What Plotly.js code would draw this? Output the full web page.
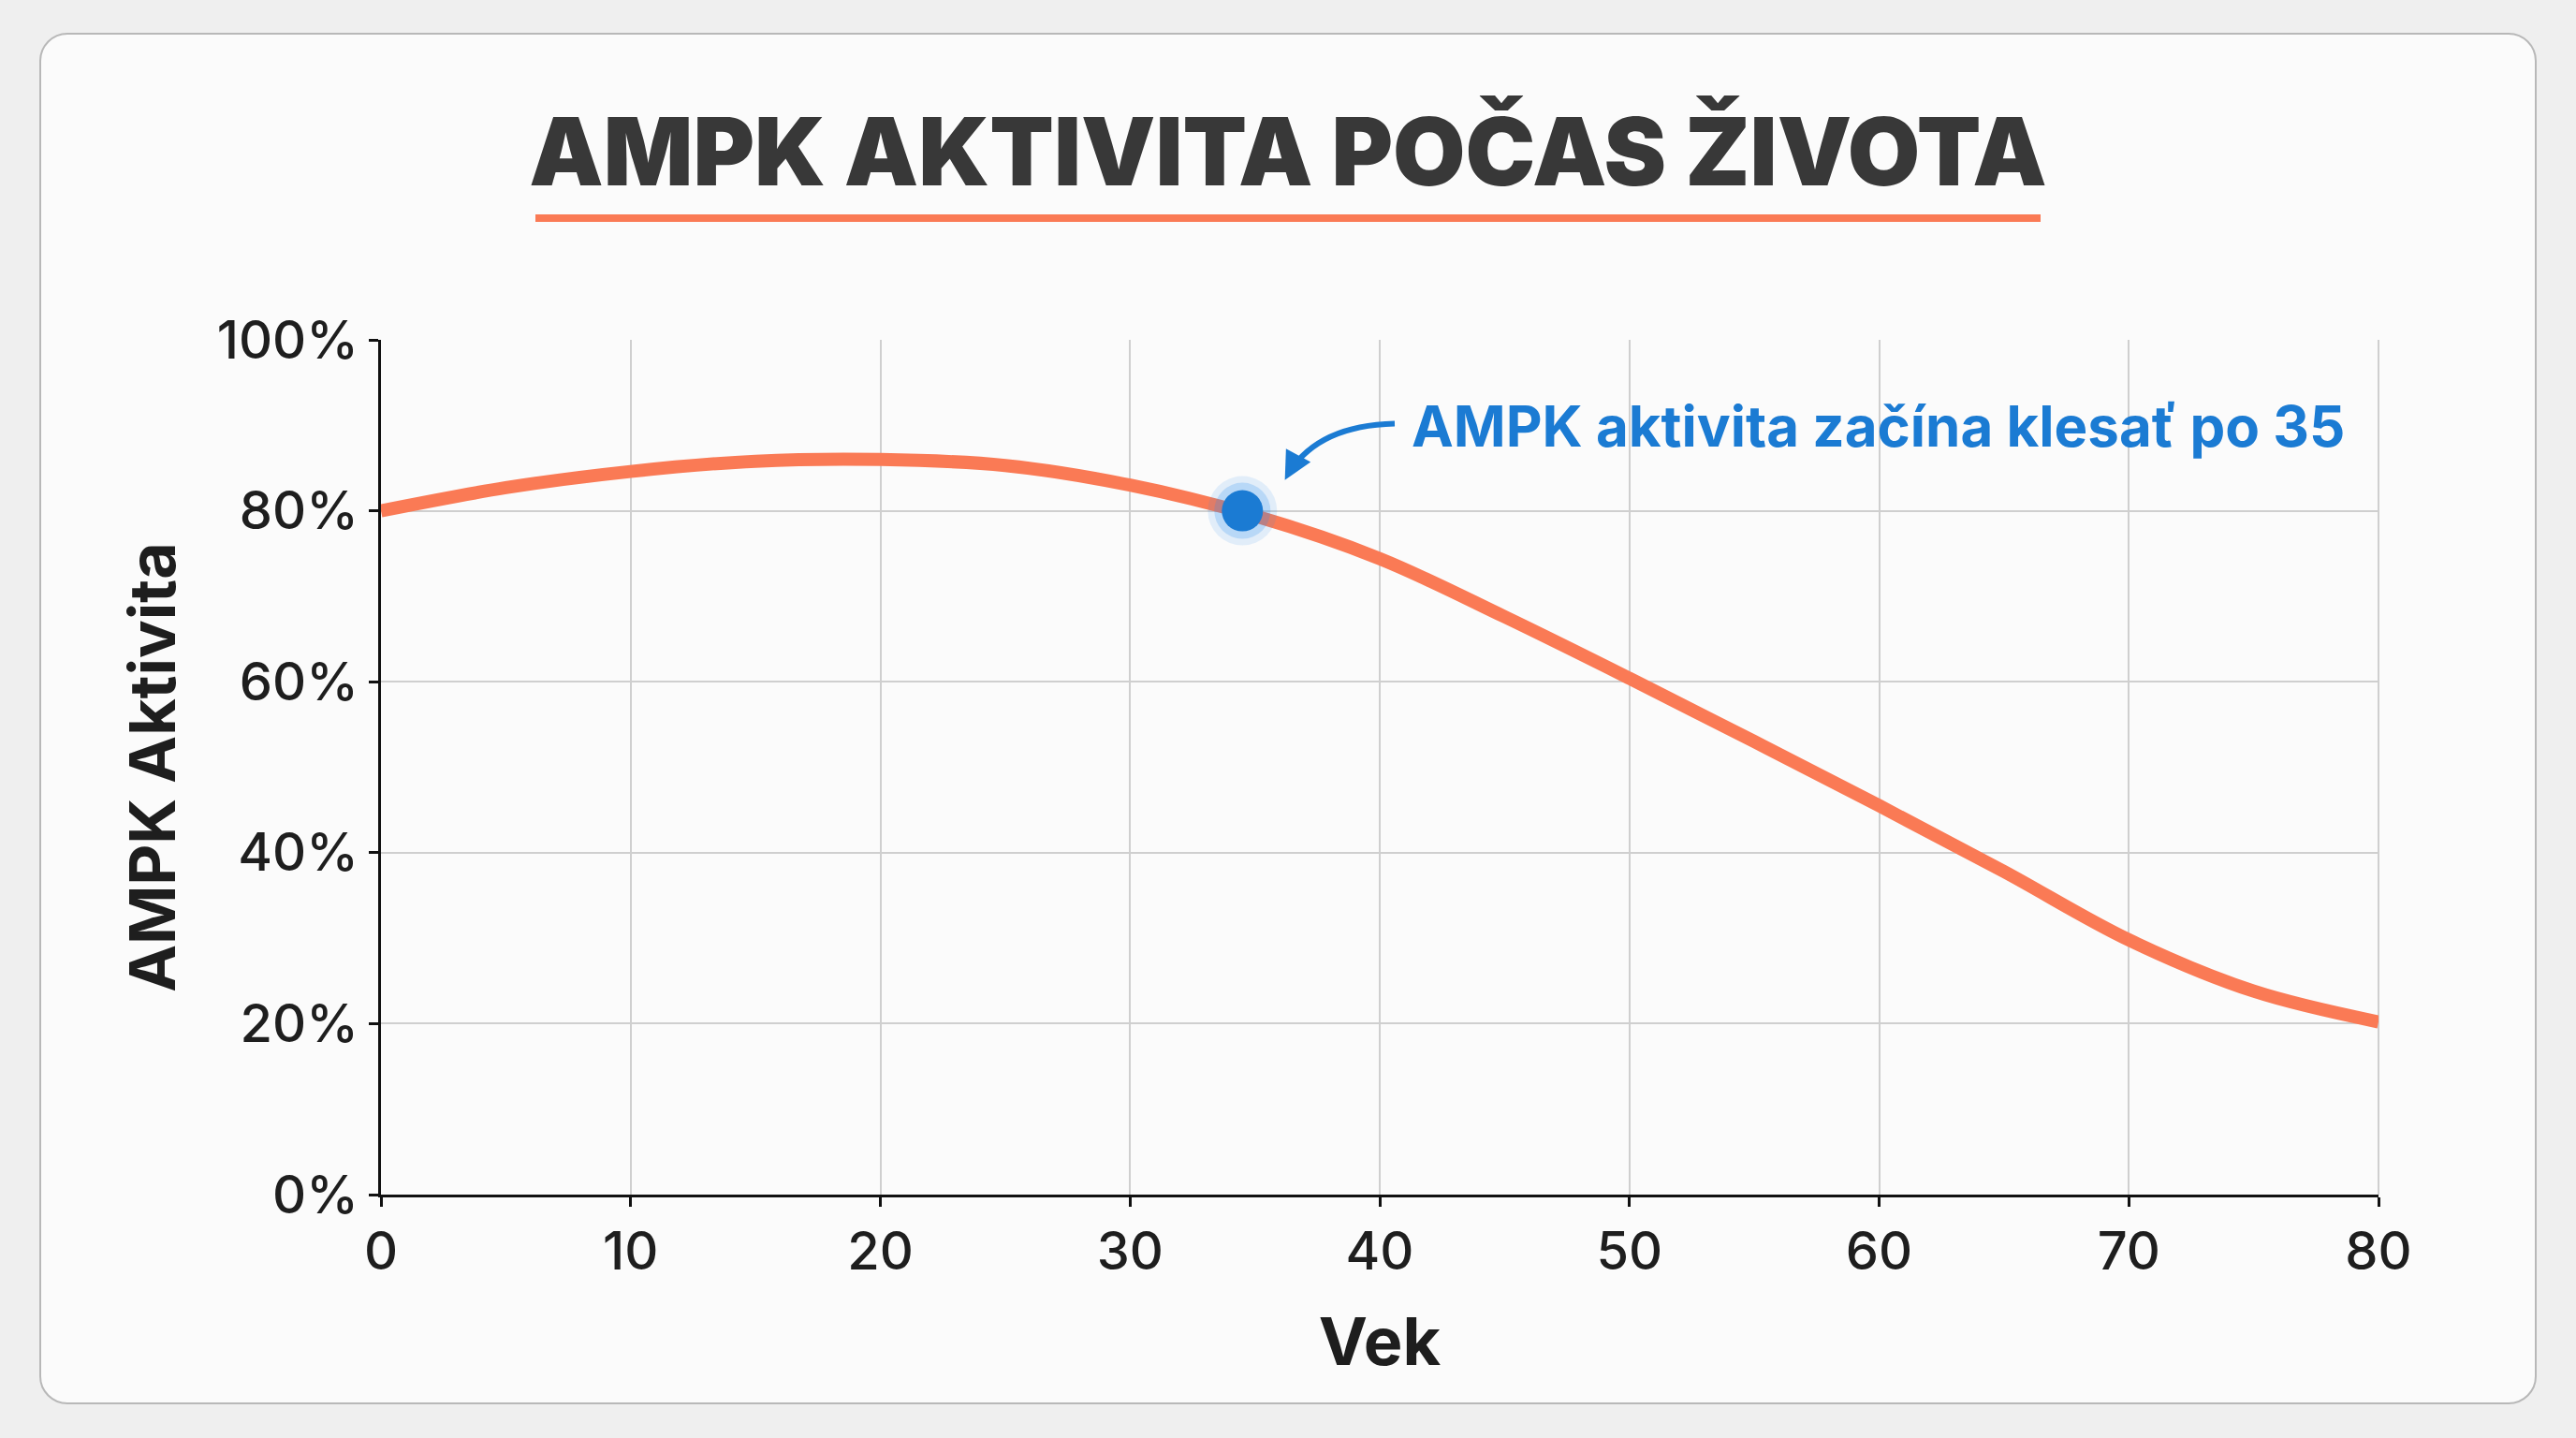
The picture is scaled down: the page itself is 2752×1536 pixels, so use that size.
<!DOCTYPE html>
<html>
<head>
<meta charset="utf-8">
<script src="https://cdn.plot.ly/plotly-3.0.1.min.js"></script>
<style>
  html, body { margin: 0; padding: 0; background: #efefef; }
  #panel {
    position: absolute; left: 42px; top: 35px; width: 2664px; height: 1461px;
    border: 2px solid #b8b8b8; border-radius: 30px; background: #fbfbfb;
  }
  #chart { position: absolute; left: 0; top: 0; width: 2752px; height: 1536px; }
</style>
</head>
<body>
<div id="panel"></div>
<div id="chart"></div>
<script>
  // ── Dáta (odčítané z obrázka) ──────────────────────────────────────────────
  const vek      = [0, 5, 10, 15, 20, 25, 30, 35, 40, 45, 50, 55, 60, 65, 70, 75, 80];
  const aktivita = [80, 82.7, 84.6, 85.8, 86, 85.3, 83, 79.4, 74.4, 67.6, 60.4, 53, 45.5, 37.8, 29.8, 23.8, 20.2];

  const bodVek = [34.5];
  const bodAkt = [80];

  const xTicks  = [0, 10, 20, 30, 40, 50, 60, 70, 80];
  const yTicks  = [0, 20, 40, 60, 80, 100];
  const yLabels = ['0%', '20%', '40%', '60%', '80%', '100%'];

  const C = {
    line:  '#fa7a55',
    blue:  '#1b7bd3',
    text:  '#1e1e1e',
    title: '#383838',
    grid:  '#cfcfcf',
  };

  const FONT = 'Inter, "Open Sans", sans-serif';

  const traces = [
    { type: 'scatter', mode: 'lines', x: vek, y: aktivita,
      line: { color: C.line, width: 14, shape: 'spline', smoothing: 1 },
      hoverinfo: 'skip' },
    // žiara okolo bodu
    { type: 'scatter', mode: 'markers', x: bodVek, y: bodAkt,
      marker: { size: 74, color: 'rgba(40,140,240,0.12)' }, hoverinfo: 'skip' },
    { type: 'scatter', mode: 'markers', x: bodVek, y: bodAkt,
      marker: { size: 60, color: 'rgba(40,140,240,0.22)' }, hoverinfo: 'skip' },
    { type: 'scatter', mode: 'markers', x: bodVek, y: bodAkt,
      marker: { size: 44, color: C.blue }, hoverinfo: 'skip' },
  ];

  const axisBase = {
    showline: true, linecolor: '#111', linewidth: 3,
    gridcolor: C.grid, gridwidth: 2, zeroline: false,
    ticks: 'outside', ticklen: 10, tickwidth: 3, tickcolor: '#111',
    tickfont: { family: FONT, size: 56, weight: 500, color: C.text },
  };

  const layout = {
    width: 2752, height: 1536,
    paper_bgcolor: 'rgba(0,0,0,0)',
    plot_bgcolor: 'rgba(0,0,0,0)',
    margin: { l: 407, r: 211, t: 363, b: 260 },
    showlegend: false,
    title: {
      text: 'AMPK AKTIVITA POČAS ŽIVOTA',
      font: { family: FONT, size: 100, weight: 900, color: C.title },
      x: 0.5, xanchor: 'center', xref: 'container',
      y: 1 - 163 / 1536, yanchor: 'middle', yref: 'container',
    },
    xaxis: Object.assign({}, axisBase, {
      range: [0, 80], tickvals: xTicks,
      title: { text: 'Vek', standoff: 40,
               font: { family: FONT, size: 70, weight: 700, color: C.text } },
    }),
    yaxis: Object.assign({}, axisBase, {
      range: [0, 100], tickvals: yTicks, ticktext: yLabels,
      title: { text: 'AMPK Aktivita', standoff: 22,
               font: { family: FONT, size: 68, weight: 700, color: C.text } },
    }),
    shapes: [
      // podčiarknutie nadpisu
      { type: 'line', xref: 'paper', yref: 'paper',
        x0: (572 - 407) / 2134, x1: (2180 - 407) / 2134,
        y0: (1276 - 233) / 913, y1: (1276 - 233) / 913,
        line: { color: C.line, width: 8 } },
      // zahnutá šípka
      { type: 'path', xref: 'x', yref: 'y',
        path: 'M 40.6,90.2 Q 37.6,90 36.4,84.6',
        line: { color: C.blue, width: 6 } },
      // pravý okraj mriežky
      { type: 'line', xref: 'paper', yref: 'paper', x0: 1, x1: 1, y0: 0, y1: 1,
        line: { color: C.grid, width: 2 }, layer: 'below' },
    ],
    annotations: [
      { x: 41.2, y: 89.9, xref: 'x', yref: 'y', xanchor: 'left', yanchor: 'middle',
        text: 'AMPK aktivita začína klesať po 35', showarrow: false,
        font: { family: FONT, size: 60, weight: 700, color: C.blue } },
      { x: 36.2, y: 83.6, xref: 'x', yref: 'y', ax: 36.5, ay: 85.2,
        axref: 'x', ayref: 'y', text: '', showarrow: true,
        arrowhead: 2, arrowsize: 1, arrowwidth: 6, arrowcolor: C.blue },
    ],
  };

  Plotly.newPlot('chart', traces, layout, { displayModeBar: false, staticPlot: true });
</script>
</body>
</html>
